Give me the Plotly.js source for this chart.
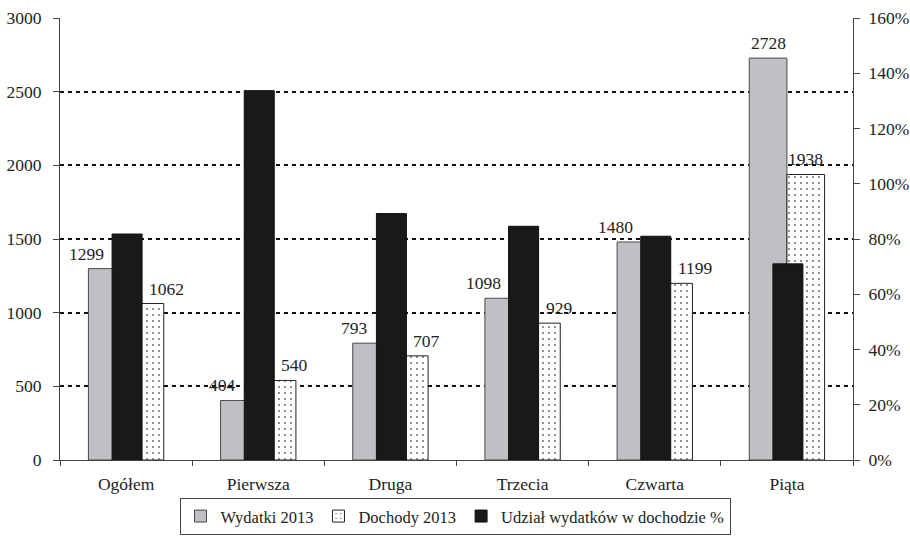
<!DOCTYPE html>
<html>
<head>
<meta charset="utf-8">
<script src="https://cdn.plot.ly/plotly-3.0.1.min.js"></script>
<style>html,body{margin:0;padding:0;background:#fff}#chart{width:910px;height:537px}</style>
</head>
<body>
<div id="chart"></div>
<script>
// ---- data ----
const categories = ['Ogółem', 'Pierwsza', 'Druga', 'Trzecia', 'Czwarta', 'Piąta'];
const wydatki = [1299, 404, 793, 1098, 1480, 2728];
const dochody = [1062, 540, 707, 929, 1199, 1938];
const udzial = [0.818, 1.337, 0.892, 0.846, 0.810, 0.710];
const seriesNames = ['Wydatki 2013', 'Dochody 2013', 'Udział wydatków w dochodzie %'];

// ---- styling ----
const FONT = '"Liberation Serif", "Times New Roman", serif';
const TXT = '#222';
const primW = 0.285;       // width of primary bars (category units)
const secW = 0.227;        // width of the black bar
const secOff = -0.106;     // offset of the black bar
const leftMax = 3000, rightMax = 1.6;
const tickFont = {family: FONT, size: 17.5, color: TXT};

const traces = [
  {
    type: 'bar', name: seriesNames[0], x: categories, y: wydatki,
    yaxis: 'y', width: primW, offset: -primW,
    marker: {color: '#bfc0c4', line: {color: '#4a4a4a', width: 1}},
    hoverinfo: 'skip'
  },
  {
    type: 'bar', name: seriesNames[1], x: categories, y: dochody,
    yaxis: 'y', width: primW, offset: 0,
    marker: {color: '#ffffff', line: {color: '#222', width: 1},
      pattern: {shape: '.', fgcolor: '#666', bgcolor: '#ffffff', size: 6, solidity: 0.08}},
    hoverinfo: 'skip'
  },
  {
    type: 'bar', name: seriesNames[2], x: categories, y: udzial,
    yaxis: 'y2', width: secW, offset: secOff,
    marker: {color: '#1b1819', line: {color: '#111', width: 1}},
    hoverinfo: 'skip'
  }
];

// data labels: moved beside the black bar when it covers the label
const annotations = [];
categories.forEach((c, i) => {
  const blackPrim = udzial[i] / rightMax * leftMax;
  const base = {xref: 'x', yref: 'y', showarrow: false, yanchor: 'bottom', yshift: 3,
                font: {family: FONT, size: 17.5, color: TXT}};
  if (blackPrim > wydatki[i]) {
    annotations.push(Object.assign({}, base, {x: i + secOff, y: wydatki[i], text: String(wydatki[i]), xanchor: 'right', xshift: -6}));
  } else {
    annotations.push(Object.assign({}, base, {x: i - primW / 2, y: wydatki[i], text: String(wydatki[i]), xanchor: 'center'}));
  }
  if (blackPrim > dochody[i]) {
    annotations.push(Object.assign({}, base, {x: i + secOff + secW, y: dochody[i], text: String(dochody[i]), xanchor: 'left', xshift: 5}));
  } else {
    annotations.push(Object.assign({}, base, {x: i + primW / 2, y: dochody[i], text: String(dochody[i]), xanchor: 'center'}));
  }
});

const layout = {
  width: 910, height: 537,
  margin: {l: 60, r: 57, t: 18, b: 77, autoexpand: false},
  paper_bgcolor: '#fff', plot_bgcolor: '#fff',
  font: {family: FONT, size: 17.5, color: TXT},
  barmode: 'overlay',
  showlegend: true,
  legend: {
    orientation: 'h', x: 0.5, xanchor: 'center', xref: 'container',
    y: 0.004, yanchor: 'bottom', yref: 'container',
    bordercolor: '#444', borderwidth: 1, bgcolor: '#fff',
    font: {family: FONT, size: 16.5, color: TXT},
    itemwidth: 30, traceorder: 'normal'
  },
  xaxis: {
    type: 'category', showgrid: false, zeroline: false,
    showline: true, linecolor: '#444', linewidth: 1,
    ticks: 'outside', tickson: 'boundaries', ticklen: 5, tickcolor: '#444',
    ticklabelstandoff: 8, tickfont: tickFont,
    range: [-0.5, categories.length - 0.5]
  },
  yaxis: {
    range: [0, leftMax], dtick: 500, tick0: 0,
    showgrid: true, gridcolor: '#111', gridwidth: 2, griddash: '4px,4px',
    zeroline: false, showline: true, linecolor: '#444', linewidth: 1,
    ticks: 'outside', ticklen: 6, tickcolor: '#444', ticklabelstandoff: 8,
    tickfont: tickFont
  },
  yaxis2: {
    overlaying: 'y', side: 'right', range: [0, rightMax], dtick: 0.2, tick0: 0,
    tickformat: '.0%', showgrid: false, zeroline: false,
    showline: true, linecolor: '#444', linewidth: 1,
    ticks: 'outside', ticklen: 6, tickcolor: '#444', ticklabelstandoff: 5,
    tickfont: tickFont
  },
  annotations: annotations
};

Plotly.newPlot('chart', traces, layout, {staticPlot: true, displayModeBar: false});
</script>
</body>
</html>
